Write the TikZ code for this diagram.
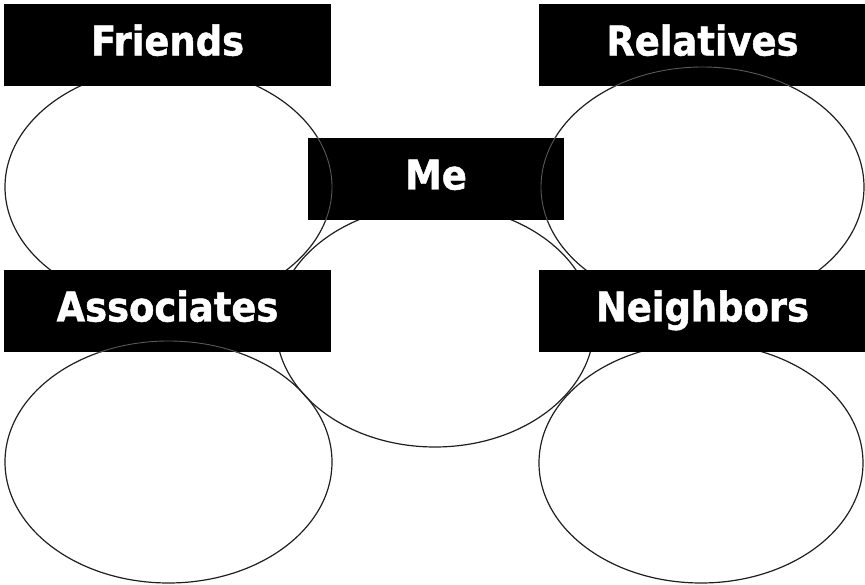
\documentclass[tikz,border=0pt]{standalone}
\usepackage{fontspec}
\newfontfamily\tagfont{DejaVu Sans Condensed}[BoldFeatures={FakeBold=1.2}]
\begin{document}
\begin{tikzpicture}[x=1pt,y=1pt,
	ring/.style={draw=black!88,line width=1.2pt},
	faint/.style={draw=white!35!black,line width=0.9pt},
	tag/.style={fill=black,text=white,inner sep=0pt,minimum height=82pt,text height=30pt,text depth=9pt,font=\fontsize{41}{41}\tagfont\bfseries}]
	\useasboundingbox (0,0) rectangle (865,-585);
	% circles to fill in
	\draw[ring] (168.5,-187) ellipse [x radius=163.5,y radius=120];
	\draw[ring] (702.5,-187) ellipse [x radius=161.5,y radius=120];
	\draw[ring] (435,-326) ellipse [x radius=159,y radius=121];
	\draw[ring] (168.5,-462) ellipse [x radius=163.5,y radius=121];
	\draw[ring] (701,-463) ellipse [x radius=162,y radius=120];
	% headings
	\node[tag,minimum width=327pt] (friends) at (167.5,-45) {Friends};
	\node[tag,minimum width=327pt] (relatives) at (702.5,-45) {Relatives};
	\node[tag,minimum width=256pt] (me) at (436,-179) {Me};
	\node[tag,minimum width=327pt] (associates) at (167.5,-311) {Associates};
	\node[tag,minimum width=327pt] (neighbors) at (702.5,-311) {Neighbors};
	% outlines that show through the black boxes
	\begin{scope}
		\clip (me.south west) rectangle (me.north east);
		\draw[faint] (168.5,-187) ellipse [x radius=163.5,y radius=120];
		\draw[faint] (702.5,-187) ellipse [x radius=161.5,y radius=120];
	\end{scope}
	\begin{scope}
		\clip (relatives.south west) rectangle (relatives.north east);
		\draw[faint] (702.5,-187) ellipse [x radius=161.5,y radius=120];
	\end{scope}
	\begin{scope}
		\clip (associates.south west) rectangle (associates.north east);
		\draw[faint] (168.5,-462) ellipse [x radius=163.5,y radius=121];
	\end{scope}
\end{tikzpicture}
\end{document}
